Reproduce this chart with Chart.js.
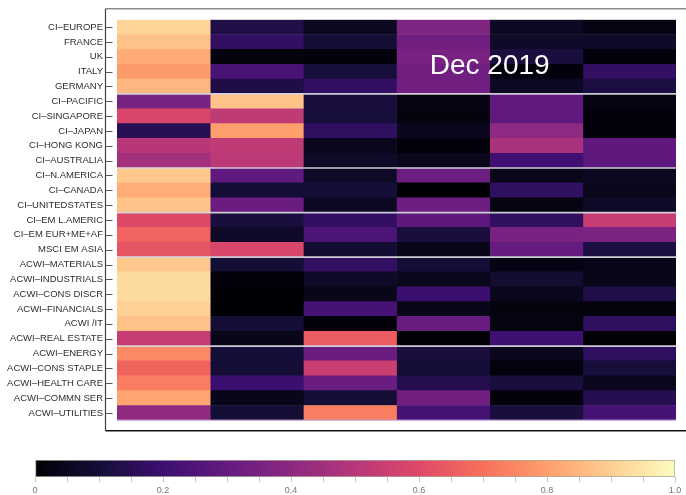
<!DOCTYPE html>
<html>
<head>
<meta charset="utf-8">
<script src="https://cdn.jsdelivr.net/npm/chart.js@4/dist/chart.umd.min.js"></script>
<style>
  html, body { margin: 0; padding: 0; background: #fff; }
  #wrap { position: relative; width: 686px; height: 495px; }
  #heat { position: absolute; left: 0; top: 0; }
  #bar { position: absolute; left: 0; top: 450px; }
</style>
</head>
<body>
<div id="wrap">
  <canvas id="heat" width="686" height="440"></canvas>
  <canvas id="bar" width="686" height="45"></canvas>
</div>
<script>
// Row labels (markets and sectors), top to bottom
const rowLabels = [
  'CI–EUROPE', 'FRANCE', 'UK', 'ITALY', 'GERMANY',
  'CI–PACIFIC', 'CI–SINGAPORE', 'CI–JAPAN', 'CI–HONG KONG', 'CI–AUSTRALIA',
  'CI–N.AMERICA', 'CI–CANADA', 'CI–UNITEDSTATES',
  'CI–EM L.AMERIC', 'CI–EM EUR+ME+AF', 'MSCI EM ASIA',
  'ACWI–MATERIALS', 'ACWI–INDUSTRIALS', 'ACWI–CONS DISCR', 'ACWI–FINANCIALS', 'ACWI /IT', 'ACWI–REAL ESTATE',
  'ACWI–ENERGY', 'ACWI–CONS STAPLE', 'ACWI–HEALTH CARE', 'ACWI–COMMN SER', 'ACWI–UTILITIES'
];

// Weights per column (0..1), one array per column, same order as rowLabels
const series1 = [0.91, 0.87, 0.825, 0.79, 0.85, 0.35, 0.585, 0.15, 0.50, 0.45, 0.885, 0.83, 0.875, 0.60, 0.67, 0.63, 0.885, 0.926, 0.926, 0.906, 0.87, 0.535, 0.755, 0.67, 0.73, 0.81, 0.41];
const series2 = [0.13, 0.18, 0.02, 0.235, 0.125, 0.87, 0.52, 0.80, 0.52, 0.51, 0.29, 0.10, 0.315, 0.115, 0.07, 0.585, 0.097, 0.01, 0.0, 0.0, 0.10, 0.045, 0.103, 0.10, 0.20, 0.04, 0.10];
const series3 = [0.055, 0.097, 0.015, 0.108, 0.18, 0.115, 0.108, 0.17, 0.05, 0.07, 0.07, 0.103, 0.065, 0.18, 0.245, 0.095, 0.18, 0.07, 0.045, 0.23, 0.01, 0.65, 0.315, 0.545, 0.315, 0.10, 0.73];
const series4 = [0.365, 0.33, 0.355, 0.33, 0.33, 0.03, 0.02, 0.05, 0.015, 0.05, 0.32, 0.0, 0.325, 0.285, 0.115, 0.045, 0.097, 0.05, 0.20, 0.045, 0.31, 0.005, 0.115, 0.10, 0.14, 0.33, 0.225];
const series5 = [0.065, 0.07, 0.113, 0.015, 0.065, 0.29, 0.29, 0.405, 0.465, 0.21, 0.04, 0.17, 0.03, 0.17, 0.355, 0.305, 0.03, 0.09, 0.05, 0.02, 0.025, 0.207, 0.05, 0.015, 0.115, 0.015, 0.115];
const series6 = [0.03, 0.07, 0.015, 0.18, 0.12, 0.03, 0.015, 0.015, 0.285, 0.285, 0.06, 0.05, 0.07, 0.535, 0.36, 0.12, 0.04, 0.04, 0.13, 0.02, 0.17, 0.005, 0.17, 0.108, 0.05, 0.145, 0.23];
const columns = [series1, series2, series3, series4, series5, series6];

// Group separators are drawn below these row indices
const groupEnds = [4, 9, 12, 15, 21, 26];

// Colour bar tick labels
const colorbarTicks = [0, 0.2, 0.4, 0.6, 0.8, 1.0];

// Magma colour map stops
const magmaStops = ['#000004', '#140e36', '#3b0f70', '#641a80', '#8c2981', '#b73779', '#de4968', '#f7705c', '#fe9f6d', '#fecf92', '#fcfdbf'];

function hexToRgb(h) {
  return [parseInt(h.slice(1, 3), 16), parseInt(h.slice(3, 5), 16), parseInt(h.slice(5, 7), 16)];
}
function magma(t) {
  t = Math.max(0, Math.min(1, t));
  const n = magmaStops.length - 1;
  const p = t * n;
  const i = Math.min(n - 1, Math.floor(p));
  const f = p - i;
  const a = hexToRgb(magmaStops[i]), b = hexToRgb(magmaStops[i + 1]);
  const c = a.map((v, k) => Math.round(v + (b[k] - v) * f));
  return `rgb(${c[0]},${c[1]},${c[2]})`;
}

const FONT = '"Liberation Sans", Arial, sans-serif';

// Frame, row ticks, group separators and the date caption
const heatDecor = {
  id: 'heatDecor',
  afterDatasetsDraw(chart) {
    const { ctx, chartArea: a, scales: { x, y } } = chart;
    ctx.save();
    // group separators
    groupEnds.forEach((r, idx) => {
      const yy = r < rowLabels.length - 1
        ? (y.getPixelForValue(r) + y.getPixelForValue(r + 1)) / 2
        : a.bottom;
      ctx.strokeStyle = idx === groupEnds.length - 1 ? 'rgba(200,170,220,0.8)' : 'rgba(215,215,220,0.95)';
      ctx.lineWidth = 1.6;
      ctx.beginPath();
      ctx.moveTo(a.left, yy);
      ctx.lineTo(a.right, yy);
      ctx.stroke();
    });
    // frame
    const fl = a.left - 11.5, ft = a.top - 11, fb = a.bottom + 10.5;
    ctx.lineWidth = 1.5;
    ctx.strokeStyle = '#8a8a8a';
    ctx.beginPath(); ctx.moveTo(fl, ft); ctx.lineTo(chart.width, ft); ctx.stroke();
    ctx.lineWidth = 1.2;
    ctx.strokeStyle = '#444';
    ctx.beginPath(); ctx.moveTo(fl, ft); ctx.lineTo(fl, fb); ctx.stroke();
    ctx.lineWidth = 1.5;
    ctx.strokeStyle = '#111';
    ctx.beginPath(); ctx.moveTo(fl, fb); ctx.lineTo(chart.width, fb); ctx.stroke();
    // row tick marks
    ctx.lineWidth = 1;
    ctx.strokeStyle = '#555';
    rowLabels.forEach((_, i) => {
      const yy = Math.round(y.getPixelForValue(i)) + 0.5;
      ctx.beginPath(); ctx.moveTo(fl, yy); ctx.lineTo(fl + 7, yy); ctx.stroke();
    });
    // caption
    ctx.fillStyle = '#ffffff';
    ctx.font = '28px ' + FONT;
    ctx.textAlign = 'center';
    ctx.textBaseline = 'alphabetic';
    ctx.fillText('Dec 2019', x.getPixelForValue(4), y.getPixelForValue(3) + 2.5);
    ctx.restore();
  }
};

new Chart(document.getElementById('heat'), {
  type: 'bar',
  data: {
    labels: rowLabels,
    datasets: columns.map((vals, j) => ({
      label: 'col' + (j + 1),
      data: vals.map(() => [j, j + 1]),
      backgroundColor: vals.map(magma),
      borderWidth: 0,
      grouped: false,
      barPercentage: 1,
      categoryPercentage: 1
    }))
  },
  options: {
    indexAxis: 'y',
    responsive: false,
    animation: false,
    layout: { padding: { top: 17, right: 10, bottom: 9, left: 0 } },
    plugins: { legend: { display: false }, tooltip: { enabled: false } },
    scales: {
      x: { type: 'linear', min: 0, max: 6, display: false },
      y: {
        grid: { display: false, drawTicks: false },
        border: { display: false },
        ticks: { autoSkip: false, padding: 14, color: '#2e2e2e', font: { size: 9.5, family: FONT } },
        afterFit(s) { s.width = 117; }
      }
    }
  },
  plugins: [heatDecor]
});

// Colour bar
new Chart(document.getElementById('bar'), {
  type: 'bar',
  data: {
    labels: [''],
    datasets: [{
      data: [[0, 1]],
      backgroundColor(c) {
        const a = c.chart.chartArea;
        if (!a) return '#000';
        const g = c.chart.ctx.createLinearGradient(a.left, 0, a.right, 0);
        magmaStops.forEach((col, i) => g.addColorStop(i / (magmaStops.length - 1), col));
        return g;
      },
      borderColor: 'rgba(130,130,110,0.7)',
      borderWidth: 1,
      borderSkipped: false,
      barPercentage: 1,
      categoryPercentage: 1
    }]
  },
  options: {
    indexAxis: 'y',
    responsive: false,
    animation: false,
    layout: { padding: { top: 10, right: 11, bottom: 0, left: 35 } },
    plugins: { legend: { display: false }, tooltip: { enabled: false } },
    scales: {
      y: { display: false },
      x: {
        type: 'linear', min: 0, max: 1,
        grid: { drawOnChartArea: false, drawTicks: true, tickLength: 5, color: '#c4c4c4' },
        border: { display: false },
        ticks: {
          stepSize: 0.05, autoSkip: false, maxRotation: 0, padding: 3,
          color: '#777', font: { size: 9, family: FONT },
          callback(v) {
            const hit = colorbarTicks.find(t => Math.abs(t - v) < 1e-6);
            if (hit === undefined) return '';
            return hit === 0 ? '0' : hit.toFixed(1);
          }
        },
        afterFit(s) { s.height = 18; }
      }
    }
  }
});
</script>
</body>
</html>
